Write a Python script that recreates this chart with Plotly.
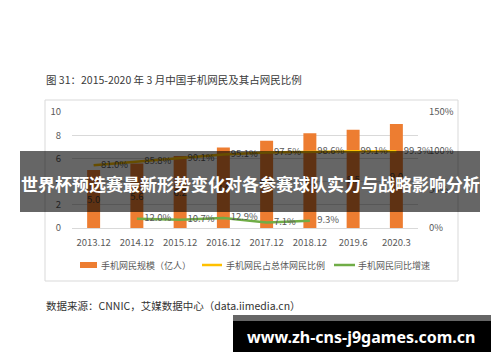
import plotly.graph_objects as go

# ---------------- data ----------------
categories = ["2013.12", "2014.12", "2015.12", "2016.12", "2017.12", "2018.12", "2019.6", "2020.3"]
users = [5.00, 5.57, 6.20, 6.95, 7.53, 8.17, 8.47, 8.97]          # 手机网民规模（亿人）
share = [81.0, 85.8, 90.1, 95.1, 97.5, 98.6, 99.1, 99.3]          # 手机网民占总体网民比例 (%)
growth_categories = ["2014.12", "2015.12", "2016.12", "2017.12", "2018.12"]
growth = [12.0, 10.7, 12.9, 7.1, 9.3]                              # 手机网民同比增速 (%)

title_text = "图 31：2015-2020 年 3 月中国手机网民及其占网民比例"
source_text = "数据来源：CNNIC，艾媒数据中心（data.iimedia.cn）"
legend_names = ["手机网民规模（亿人）", "手机网民占总体网民比例", "手机网民同比增速"]
banner_text = "世界杯预选赛最新形势变化对各参赛球队实力与战略影响分析"
url_text = "www.zh-cns-j9games.com.cn"

# ---------------- style ----------------
W, H = 500, 362
PL, PR, PT, PB = 72, 418, 112, 228
FONT = "Noto Sans CJK SC"
ORANGE = "#ED7D31"
YELLOW = "#FFC000"
GREEN = "#70AD47"
GRID = "#D9D9D9"
TICK = "#595959"


def px(x):
    return (x - PL) / (PR - PL)


def py(y):
    return (PB - y) / (PB - PT)


fig = go.Figure()

fig.add_trace(go.Bar(
    x=categories, y=users, name=legend_names[0],
    marker=dict(color=ORANGE, line=dict(width=0)),
    width=0.3,
    texttemplate="%{y:.1f}", textposition="inside", insidetextanchor="middle",
    textangle=0, constraintext="none",
    textfont=dict(family=FONT, size=9.5, color="#404040"),
    showlegend=False,
))

fig.add_trace(go.Scatter(
    x=categories, y=share, name=legend_names[1], yaxis="y2",
    mode="lines+markers+text",
    line=dict(color=YELLOW, width=2.5),
    marker=dict(size=10, opacity=0),
    texttemplate="%{y:.1f}%", textposition="middle right",
    textfont=dict(family=FONT, size=9.5, color=TICK),
    cliponaxis=False, showlegend=False,
))

fig.add_trace(go.Scatter(
    x=growth_categories, y=growth, name=legend_names[2], yaxis="y2",
    mode="lines+markers+text",
    line=dict(color=GREEN, width=2.5),
    marker=dict(size=10, opacity=0),
    texttemplate="%{y:.1f}%", textposition="middle right",
    textfont=dict(family=FONT, size=9.5, color=TICK),
    cliponaxis=False, showlegend=False,
))

shapes = []
annotations = []

# chart frame
shapes.append(dict(type="rect", xref="paper", yref="paper",
                   x0=px(45), x1=px(458), y0=py(281), y1=py(100),
                   line=dict(color=GRID, width=1), fillcolor="rgba(0,0,0,0)", layer="below"))

# custom legend
shapes.append(dict(type="rect", xref="paper", yref="paper",
                   x0=px(80), x1=px(97), y0=py(268), y1=py(262),
                   line=dict(width=0), fillcolor=ORANGE))
shapes.append(dict(type="line", xref="paper", yref="paper",
                   x0=px(202), x1=px(222), y0=py(265), y1=py(265),
                   line=dict(color=YELLOW, width=2.5)))
shapes.append(dict(type="line", xref="paper", yref="paper",
                   x0=px(334), x1=px(355), y0=py(265), y1=py(265),
                   line=dict(color=GREEN, width=2.5)))
for xs, name in zip([99, 224, 356], legend_names):
    annotations.append(dict(x=px(xs), y=py(265.5), xref="paper", yref="paper",
                            text=name, showarrow=False, xanchor="left", yanchor="middle",
                            font=dict(family=FONT, size=9, color=TICK)))

# title and source
annotations.append(dict(x=px(44), y=py(79), xref="paper", yref="paper", text=title_text,
                        showarrow=False, xanchor="left", yanchor="middle",
                        font=dict(family=FONT, size=10.5, color="#3A3A3A")))
annotations.append(dict(x=px(44), y=py(305), xref="paper", yref="paper", text=source_text,
                        showarrow=False, xanchor="left", yanchor="middle",
                        font=dict(family=FONT, size=10.5, color="#333333")))

# overlay banner
shapes.append(dict(type="rect", xref="paper", yref="paper",
                   x0=px(20), x1=px(480), y0=py(212), y1=py(151),
                   line=dict(width=0), fillcolor="rgba(0,0,0,0.6)", layer="above"))
annotations.append(dict(x=px(250), y=py(183), xref="paper", yref="paper",
                        text="<b>" + banner_text + "</b>", showarrow=False,
                        xanchor="center", yanchor="middle",
                        font=dict(family=FONT, size=17, color="white")))

# url banner
shapes.append(dict(type="rect", xref="paper", yref="paper",
                   x0=px(233), x1=px(491), y0=py(321), y1=py(315),
                   line=dict(width=0), fillcolor="#666666", layer="above"))
shapes.append(dict(type="rect", xref="paper", yref="paper",
                   x0=px(233), x1=px(491), y0=py(352), y1=py(321),
                   line=dict(width=0), fillcolor="#000000", layer="above"))
annotations.append(dict(x=px(361), y=py(336.5), xref="paper", yref="paper",
                        text="<b>" + url_text + "</b>", showarrow=False,
                        xanchor="center", yanchor="middle",
                        font=dict(family="Noto Sans", size=16, color="white")))

fig.update_layout(
    width=W, height=H,
    margin=dict(l=PL, r=W - PR, t=PT, b=H - PB, pad=0),
    paper_bgcolor="white", plot_bgcolor="white",
    showlegend=False,
    font=dict(family=FONT, size=9.5, color=TICK),
    bargap=0.7,
    xaxis=dict(type="category", range=[-0.5, 7.5], showgrid=False, showline=True,
               linecolor=GRID, linewidth=1, ticks="", ticklabelstandoff=6,
               tickfont=dict(family=FONT, size=9.5, color=TICK), fixedrange=True),
    yaxis=dict(range=[0, 10], dtick=2, showgrid=True, gridcolor=GRID, gridwidth=1,
               zeroline=False, showline=False, ticks="", ticklabelstandoff=10,
               tickfont=dict(family=FONT, size=9.5, color=TICK)),
    yaxis2=dict(range=[0, 150], dtick=50, ticksuffix="%", overlaying="y", side="right",
                showgrid=False, zeroline=False, showline=False, ticks="", ticklabelstandoff=10,
                tickfont=dict(family=FONT, size=9.5, color=TICK)),
    uniformtext=dict(minsize=9, mode="show"),
    shapes=shapes,
    annotations=annotations,
)

fig.write_html("out.html")
